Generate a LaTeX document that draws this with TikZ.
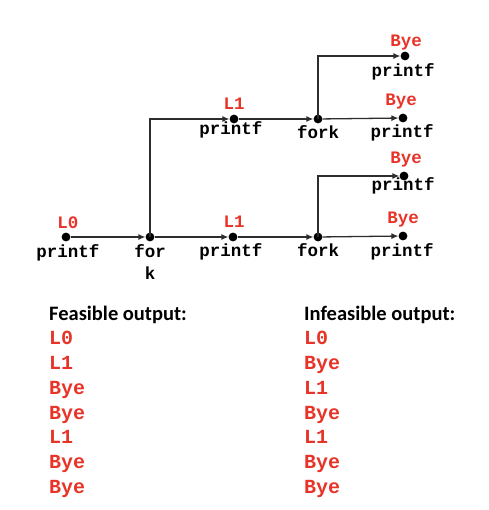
\documentclass[tikz,border=0pt]{standalone}
\usepackage{fontspec}
\setmainfont{Carlito}
\newfontfamily\cour{Liberation Mono}
\usetikzlibrary{arrows.meta}
\definecolor{lblred}{RGB}{232,52,40}
\definecolor{edgegray}{RGB}{45,45,45}
\tikzset{
  dot/.style={circle,fill=black,inner sep=0pt,minimum size=8.8pt},
  code/.style={font=\cour\bfseries\fontsize{17.5}{20}\selectfont,inner sep=0pt,anchor=base},
  lbl/.style={code,text=lblred},
  flow/.style={draw=edgegray,line width=1.3pt,-{Latex[length=7pt,width=6pt]}},
  head/.style={font=\bfseries\fontsize{20.5}{24}\selectfont,inner sep=0pt,anchor=base west},
  item/.style={font=\cour\bfseries\fontsize{20}{24}\selectfont,text=lblred,inner sep=0pt,anchor=base west},
}
\begin{document}
\begin{tikzpicture}[x=1pt,y=-1pt]
\useasboundingbox (0,0) rectangle (488,510);
% dots
\node[dot] (l0) at (66,237) {};
\node[dot] (fk) at (150,237) {};
\node[dot] (l1b) at (233,237) {};
\node[dot] (fb) at (318,237) {};
\node[dot] (by4) at (403,236) {};
\node[dot] (by3) at (404,176) {};
\node[dot] (l1t) at (234,119) {};
\node[dot] (ft) at (318,119) {};
\node[dot] (by2) at (403,118) {};
\node[dot] (by1) at (405,56) {};
% connectors
\draw[flow] (l0) -- (fk);
\draw[flow] (fk) -- (l1b);
\draw[flow] (l1b) -- (fb);
\draw[flow] (fb) -- (by4);
\draw[flow] (fk.center) -- (fk.center |- l1t) -- (l1t);
\draw[flow] (ft) -- (by2);
\draw[flow] (l1t) -- (ft);
\draw[flow] (ft.center) -- (ft.center |- by1) -- (by1);
\draw[flow] (fb.center) -- (fb.center |- by3) -- (by3);
% labels
\node[lbl] (tl0) at (68,229) {L0};
\node[code] (tp0) at (68,257) {printf};
\node[code] (tfor) at (150,257) {for};
\node[code] (tk) at (150,279) {k};
\node[lbl] (tl1b) at (234,227) {L1};
\node[code] (tp1b) at (231,256) {printf};
\node[code] (tfb) at (318,256) {fork};
\node[lbl] (tby4) at (403,223) {Bye};
\node[code] (tp4) at (402,256) {printf};
\node[lbl] (tby3) at (406,164) {Bye};
\node[code] (tp3) at (403,191) {printf};
\node[lbl] (tl1t) at (234,110) {L1};
\node[code] (tp1t) at (231,135) {printf};
\node[code] (tft) at (318,139) {fork};
\node[lbl] (tby2) at (401,106) {Bye};
\node[code] (tp2) at (402,138) {printf};
\node[lbl] (tby1) at (406,47) {Bye};
\node[code] (tp1) at (403,77) {printf};
% lists
\node[head] (hf) at (49,320) {Feasible output:};
\node[head] (hi) at (304,320) {Infeasible output:};
\node[item] (f1) at (49,344) {L0};
\node[item] (f2) at (49,369) {L1};
\node[item] (f3) at (49,394) {Bye};
\node[item] (f4) at (49,419) {Bye};
\node[item] (f5) at (49,443) {L1};
\node[item] (f6) at (49,468) {Bye};
\node[item] (f7) at (49,493) {Bye};
\node[item] (i1) at (304,344) {L0};
\node[item] (i2) at (304,369) {Bye};
\node[item] (i3) at (304,394) {L1};
\node[item] (i4) at (304,419) {Bye};
\node[item] (i5) at (304,443) {L1};
\node[item] (i6) at (304,468) {Bye};
\node[item] (i7) at (304,493) {Bye};
\end{tikzpicture}
\end{document}
